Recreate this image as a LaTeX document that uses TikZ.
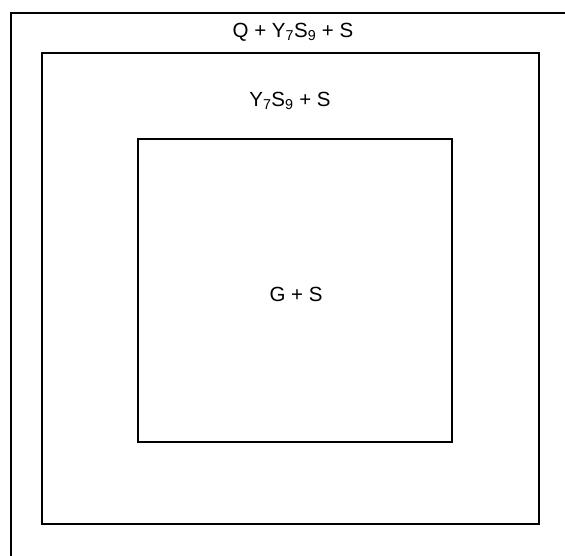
\documentclass[tikz,border=0pt]{standalone}
\usepackage{fontspec}
\setmainfont{Liberation Sans}
\usetikzlibrary{positioning}

\begin{document}
\begin{tikzpicture}[
		x=1pt, y=-1pt,
		every node/.style={font=\fontsize{20.5}{24}\selectfont, inner sep=0pt},
		phase/.style={line width=1.6pt, black}
	]
		\useasboundingbox (0,0) rectangle (565,556);
		% outer field, cut by the picture edge
		\draw[phase] (11,556) |- (565,13);
		% middle and inner fields
		\draw[phase] (42,53) rectangle (539,524);
		\draw[phase] (138,139) rectangle (452,442);
		\node (qys) at (293,32) {Q + Y\textsubscript{7}S\textsubscript{9} + S};
		\node (ys) at (290,101) {Y\textsubscript{7}S\textsubscript{9} + S};
		\node (gs) at (296,294) {G + S};
\end{tikzpicture}
\end{document}
